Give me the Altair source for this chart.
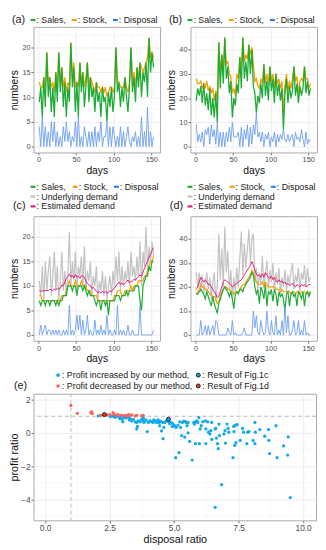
import altair as alt
import pandas as pd

FONT = "Liberation Sans"

days = list(range(1, 154, 2))

# ---------- panel (a) ----------
a_sales = [9, 12, 6, 14, 8, 19, 10, 14, 7, 12,
           6, 15, 9, 19, 11, 16, 8, 13, 6, 12,
           9, 21, 12, 16, 7, 13, 6, 17, 11, 15,
           8, 12, 17, 9, 14, 10, 12, 7, 13, 9,
           11, 6, 12, 9, 10, 5, 11, 8, 12, 7,
           10, 20, 11, 13, 8, 12, 9, 14, 10, 7,
           12, 20, 11, 14, 9, 16, 12, 17, 10, 15,
           13, 17, 10, 22, 15, 19, 16]
a_stock = [13, 12, 12, 14, 12, 19, 13, 14, 12, 13,
           11, 15, 12, 19, 13, 16, 12, 14, 11, 13,
           12, 21, 14, 17, 12, 13, 12, 17, 13, 15,
           12, 14, 17, 12, 14, 13, 12, 11, 13, 12,
           12, 11, 12, 11, 12, 10, 11, 12, 12, 11,
           12, 20, 13, 13, 12, 12, 12, 14, 12, 11,
           13, 20, 13, 15, 12, 16, 14, 17, 16, 15,
           16, 17, 18, 22, 18, 19, 18]
a_disposal = [4, 0, 6, 0, 4, 0, 3, 0, 5, 1,
              5, 0, 3, 0, 2, 0, 4, 1, 5, 1,
              3, 0, 2, 1, 5, 0, 6, 0, 2, 0,
              4, 2, 0, 3, 0, 3, 0, 4, 0, 3,
              1, 5, 0, 2, 2, 5, 0, 4, 0, 4,
              2, 0, 2, 0, 4, 0, 3, 0, 2, 4,
              1, 0, 2, 1, 3, 0, 2, 0, 6, 0,
              3, 0, 8, 0, 3, 0, 2]

# ---------- panel (b) ----------
b_sales = [19, 24, 21, 25, 18, 26, 17, 22, 15, 24,
           13, 20, 12, 22, 10, 43, 24, 38, 26, 45,
           28, 33, 22, 27, 12, 20, 17, 26, 22, 37,
           24, 45, 28, 35, 27, 42, 30, 40, 25, 22,
           14, 21, 18, 26, 20, 34, 21, 27, 19, 33,
           23, 28, 18, 30, 21, 26, 19, 24, 7, 22,
           28, 18, 25, 20, 23, 33, 21, 26, 18, 25,
           21, 24, 33, 22, 27, 21, 24]
b_stock = [28, 26, 26, 27, 24, 26, 24, 27, 23, 25,
           22, 24, 19, 23, 20, 43, 30, 38, 32, 45,
           34, 35, 30, 29, 22, 24, 21, 30, 28, 37,
           32, 45, 35, 38, 36, 42, 38, 41, 34, 27,
           28, 25, 24, 28, 26, 34, 26, 30, 25, 33,
           27, 30, 24, 30, 26, 28, 24, 27, 14, 25,
           30, 23, 27, 24, 28, 33, 27, 29, 22, 27,
           28, 27, 33, 28, 28, 24, 26]
b_disposal = [9, 2, 5, 2, 6, 0, 7, 5, 8, 1,
              9, 4, 7, 1, 10, 0, 6, 0, 6, 0,
              6, 2, 8, 2, 10, 4, 4, 4, 6, 0,
              8, 0, 7, 3, 9, 0, 8, 1, 9, 5,
              14, 4, 6, 2, 6, 0, 5, 3, 6, 0,
              4, 2, 6, 0, 5, 2, 5, 3, 7, 3,
              2, 5, 2, 4, 5, 0, 6, 3, 4, 2,
              7, 3, 0, 6, 1, 3, 2]

# ---------- panel (c) ----------
c_demand = [11, 8, 14, 7, 15, 9, 13, 16, 8, 12,
            17, 9, 14, 7, 11, 17, 9, 13, 8, 12,
            21, 10, 15, 11, 17, 9, 14, 12, 16, 10,
            18, 9, 13, 11, 15, 8, 12, 10, 14, 7,
            11, 9, 13, 8, 12, 7, 10, 12, 8, 13,
            10, 16, 11, 17, 9, 14, 10, 13, 11, 15,
            10, 17, 12, 14, 11, 16, 12, 19, 10, 17,
            14, 22, 13, 18, 15, 19, 16]
c_estimated = [9.0, 8.9, 9.0, 9.0, 9.0, 9.1, 9.0, 9.3, 9.2, 9.0,
               9.4, 9.2, 9.5, 9.3, 9.5, 10.2, 10.0, 10.8, 11.5, 12.0,
               12.4, 11.8, 12.2, 11.6, 12.3, 11.8, 12.0, 11.5, 12.1, 11.9,
               11.7, 11.0, 10.5, 10.2, 10.0, 9.5, 9.7, 9.2, 9.0, 8.6,
               8.8, 8.5, 8.9, 8.6, 8.8, 8.5, 8.7, 9.0, 8.8, 9.3,
               9.5, 10.0, 10.4, 10.8, 10.3, 10.6, 10.2, 10.5, 10.8, 11.2,
               10.6, 10.9, 11.0, 11.3, 11.2, 11.6, 11.9, 12.2, 12.0, 12.8,
               13.6, 14.4, 15.0, 15.8, 16.4, 17.2, 17.8]
c_sales = [7, 6, 7, 7, 6, 7, 7, 6, 7, 7,
           7, 6, 7, 6, 7, 7, 8, 8, 8, 10,
           10, 10, 9, 10, 10, 8, 10, 10, 10, 9,
           10, 9, 8, 9, 8, 8, 8, 7, 6, 7,
           7, 5, 7, 7, 6, 7, 4, 7, 7, 7,
           7, 8, 8, 8, 7, 8, 8, 8, 9, 8,
           9, 9, 9, 9, 10, 10, 10, 7, 5, 10,
           11, 12, 12, 14, 13, 15, 15]
c_stock = [8, 8, 7, 7, 7, 7, 7, 7, 7, 7,
           7, 7, 7, 7, 7, 8, 8, 8, 9, 10,
           11, 10, 10, 10, 11, 10, 10, 10, 11, 10,
           10, 10, 9, 9, 9, 8, 8, 8, 8, 7,
           7, 7, 7, 7, 7, 7, 7, 7, 7, 7,
           8, 8, 9, 9, 9, 8, 8, 9, 9, 9,
           9, 10, 9, 10, 10, 10, 11, 11, 11, 11,
           12, 12, 13, 14, 15, 15, 16]
c_disposal = [0, 2, 0, 1, 2, 0, 1, 1, 0, 1,
              0, 1, 0, 1, 0, 0, 1, 0, 1, 0,
              6, 0, 1, 0, 1, 4, 1, 4, 0, 3,
              0, 1, 4, 0, 1, 0, 0, 3, 0, 1,
              0, 2, 0, 1, 0, 4, 0, 1, 0, 0,
              1, 0, 6, 0, 1, 0, 1, 0, 0, 2,
              0, 0, 1, 0, 0, 0, 0, 6, 0, 0,
              0, 0, 0, 0, 0, 0, 1]

# ---------- panel (d) ----------
d_demand = [26, 20, 26, 18, 25, 17, 22, 26, 19, 24,
            15, 22, 26, 14, 20, 42, 23, 36, 20, 45,
            26, 35, 19, 27, 15, 24, 18, 28, 20, 32,
            43, 25, 38, 28, 35, 44, 30, 40, 42, 22,
            28, 19, 26, 21, 33, 20, 25, 31, 19, 27,
            22, 30, 18, 26, 21, 28, 17, 24, 20, 27,
            18, 25, 21, 26, 30, 19, 25, 22, 28, 18,
            26, 23, 29, 20, 28, 22, 24]
d_estimated = [19, 20, 22, 24, 23, 22, 23, 22, 21, 21,
               20, 19, 18, 17, 15.5, 16, 18, 20, 22, 23,
               22.5, 22, 21.5, 21, 20, 20.5, 21, 21.5, 22, 22.5,
               23, 24, 25, 26, 27, 28, 29, 30.5, 29, 27,
               25.5, 24.5, 25, 24, 25.5, 24, 26, 25, 24, 23.5,
               24.5, 23, 24, 22.5, 22, 23, 22, 22.5, 21.5, 22,
               21, 21.5, 20.5, 21, 21.5, 20.5, 20, 21, 20.5, 20,
               21, 20.5, 21, 20, 20.5, 21, 21]
d_sales = [17, 17, 18, 19, 18, 17, 15, 18, 16, 14,
           12, 16, 13, 11, 9, 13, 15, 17, 19, 20,
           19, 18, 16, 18, 15, 11, 17, 18, 17, 19,
           19, 18, 20, 21, 22, 23, 24, 26, 25, 20,
           17, 19, 13, 20, 18, 15, 21, 12, 18, 17,
           19, 14, 19, 17, 12, 18, 16, 17, 15, 10,
           17, 18, 12, 17, 18, 16, 17, 12, 18, 17,
           15, 18, 12, 17, 18, 16, 18]
d_stock = [17, 18, 19, 21, 20, 20, 19, 19, 18, 17,
           17, 16, 16, 15, 13, 14, 16, 18, 19, 20,
           20, 19, 19, 18, 18, 17, 18, 18, 18, 19,
           20, 21, 21, 22, 23, 24, 25, 27, 26, 24,
           22, 21, 21, 21, 22, 20, 22, 21, 20, 20,
           20, 20, 20, 19, 19, 19, 18, 19, 18, 18,
           18, 18, 18, 17, 18, 18, 17, 18, 18, 17,
           18, 18, 18, 17, 18, 17, 18]
d_disposal = [0, 0, 0, 6, 0, 1, 4, 0, 4, 0,
              2, 4, 0, 6, 5, 0, 0, 0, 0, 0,
              0, 3, 1, 0, 6, 0, 1, 0, 0, 0,
              0, 1, 3, 0, 0, 0, 0, 0, 10, 3,
              8, 1, 0, 6, 2, 0, 1, 10, 2, 0,
              6, 1, 0, 8, 0, 2, 0, 6, 0, 12,
              1, 8, 0, 0, 2, 6, 0, 1, 6, 0,
              2, 0, 6, 0, 1, 0, 0]

# ---------- panel (e) ----------
inc_x = [2.06, 2.53, 2.59, 2.66, 2.72, 2.78, 2.85, 2.89, 2.94, 2.99,
         3.01, 3.07, 3.14, 3.23, 3.27, 3.30, 3.36, 3.42, 3.49, 3.55,
         3.58, 3.55, 3.61, 3.68, 3.74, 3.78, 3.81, 3.83, 3.87, 3.91,
         3.96, 4.00, 4.06, 4.13, 4.19, 4.21, 4.29, 4.32, 4.38, 4.42,
         4.44, 4.47, 4.51, 4.55, 4.57, 4.60, 4.64, 4.70, 4.74, 4.80,
         4.83, 4.89, 4.93, 4.96, 4.98, 5.02, 5.06, 5.08, 5.15, 5.19,
         5.22, 5.25, 5.29, 5.32, 5.38, 5.41, 5.45, 5.48, 5.50, 5.54,
         5.54, 5.60, 5.70, 5.76, 5.79, 5.83, 5.88, 5.92, 5.96, 6.01,
         6.05, 6.11, 6.21, 6.23, 6.23, 5.83, 5.98, 6.30, 6.33, 6.39,
         6.42, 6.46, 6.46, 6.59, 6.61, 6.64, 6.68, 6.71, 6.74, 6.76,
         6.84, 6.59, 6.93, 6.97, 6.99, 7.05, 7.09, 7.12, 7.28, 7.31,
         7.32, 7.35, 7.37, 7.40, 7.44, 7.56, 7.65, 7.69, 7.82, 7.85,
         7.90, 8.06, 8.13, 8.13, 8.15, 8.32, 8.51, 8.66, 8.67, 8.70,
         8.95, 8.99, 9.24, 9.40, 9.42, 9.50]
inc_y = [1.02, 0.98, 1.02, 0.98, 0.94, 1.02, 0.98, 0.86, 0.94, 0.82,
         0.67, 0.94, 0.90, 0.94, 0.78, 0.86, 0.71, 0.82, 0.67, 0.63,
         0.39, 0.24, 0.73, 0.67, 0.82, 0.75, 0.90, 0.63, 0.71, 0.78,
         0.08, 0.63, 0.73, 0.67, 0.63, 0.78, 0.73, 0.63, 0.78, 0.63,
         0.43, 0.71, 0.12, 0.63, -0.35, 0.33, 0.63, 0.71, 0.78, 0.67,
         0.55, 0.63, 0.39, 0.53, 0.43, 0.43, -1.49, 0.33, 0.47, -1.18,
         0.67, 0.33, -0.16, 0.63, 0.71, -0.25, 0.67, 0.63, 0.43, 0.63,
         0.00, -0.51, -1.63, 0.63, 0.53, 0.67, 0.73, 0.63, 0.92, 0.24,
         0.43, 0.67, 0.73, 0.24, -0.65, -0.65, -0.65, 0.67, 0.04, -0.06,
         0.14, 0.63, -0.39, 0.24, 0.27, -0.31, -0.65, -0.94, 0.53, -0.16,
         -3.10, -4.47, -0.06, 0.14, -0.61, 0.53, 0.27, 0.04, -1.49, 0.39,
         0.08, -0.75, 0.47, -0.59, 0.49, -0.45, 0.27, 0.04, -0.65, 0.04,
         0.08, -0.45, 0.63, -0.65, 0.04, 0.20, -0.20, 0.20, -0.45, -1.24,
         0.43, -1.49, -0.78, -1.33, -0.24, -3.88]
dec_x = [1.00, 1.25, 1.77, 1.80, 1.83, 2.15, 2.25, 2.38, 2.50, 2.63,
         2.68, 2.76, 2.81, 2.89, 2.98, 3.10, 3.17, 3.23, 3.29, 3.36,
         3.49, 3.55, 3.74, 3.80]
dec_y = [1.65, 1.18, 1.22, 1.27, 1.16, 1.06, 1.10, 1.08, 1.10, 1.22,
         1.10, 1.06, 1.10, 1.06, 1.06, 1.06, 1.02, 1.10, 1.06, 1.08,
         1.02, 1.06, 1.02, 1.06]
fig1c_x = [4.78]
fig1c_y = [0.82]
fig1d_x = [2.30]
fig1d_y = [1.10]

# ---------- styling ----------
GREEN = "#1dab36"
ORANGE = "#f5a000"
BLUE = "#6a9ef0"
BLUE_KEY = "#2f7cf0"
GRAY = "#c2c2c2"
MAGENTA = "#e5197c"
PT_BLUE = "#13a8ec"
PT_RED = "#f3645b"
MINOR = "#f3f3f3"
TXT = "#1a1a1a"


def txt(s, x, y, size=9, color=TXT):
    return alt.Chart(pd.DataFrame({"t": [s]})).mark_text(
        align="left", baseline="middle", font=FONT, fontSize=size, color=color
    ).encode(text="t:N", x=alt.value(x), y=alt.value(y))


def key_line(color, x, y):
    return alt.Chart(pd.DataFrame({"t": [0]})).mark_rule(
        color=color, strokeWidth=2.2
    ).encode(x=alt.value(x), x2=alt.value(x + 5), y=alt.value(y))


def key_dot(color, x, y, outline=False):
    return alt.Chart(pd.DataFrame({"t": [0]})).mark_circle(
        fill=color, opacity=1, size=16 if outline else 13,
        stroke="#111111" if outline else color, strokeWidth=0.9 if outline else 0
    ).encode(x=alt.value(x), y=alt.value(y))


def time_panel(df, ydom, ymaj, yminor, series, legend, h):
    xs = alt.Scale(domain=[-6.7, 161.7], nice=False, zero=False)
    ys = alt.Scale(domain=ydom, nice=False, zero=False)
    xax = alt.Axis(values=[0, 50, 100, 150], title="days", labelFontSize=7.5,
                   titleFontSize=10.5, tickSize=2.5, labelPadding=1, titlePadding=2)
    yax = alt.Axis(values=ymaj, title="numbers", labelFontSize=7.5,
                   titleFontSize=10.5, tickSize=2.5, labelPadding=1, titlePadding=2)
    layers = [
        alt.Chart(pd.DataFrame({"v": [25, 75, 125]})).mark_rule(color=MINOR, strokeWidth=0.5)
        .encode(x=alt.X("v:Q", scale=xs, axis=xax)),
        alt.Chart(pd.DataFrame({"v": yminor})).mark_rule(color=MINOR, strokeWidth=0.5)
        .encode(y=alt.Y("v:Q", scale=ys, axis=yax)),
    ]
    for field, color, w in series:
        layers.append(
            alt.Chart(df).mark_line(color=color, strokeWidth=w).encode(
                x=alt.X("day:Q", scale=xs, axis=xax),
                y=alt.Y(f"{field}:Q", scale=ys, axis=yax),
            )
        )
    layers += legend
    return alt.layer(*layers).properties(width=129, height=h)


def legend_ab(tag):
    y = -7
    return [
        txt(tag, -22, y, 11),
        key_line(GREEN, -3, y), txt(": Sales,", 3, y),
        key_line(ORANGE, 39, y), txt(": Stock,", 45, y),
        key_line(BLUE_KEY, 81, y), txt(": Disposal", 87, y),
    ]


def legend_cd(tag):
    y1, y2, y3 = -30, -20, -10
    return [
        key_line(GREEN, -3, y1), txt(": Sales,", 3, y1),
        key_line(ORANGE, 40, y1), txt(": Stock,", 46, y1),
        key_line(BLUE_KEY, 82, y1), txt(": Disposal", 88, y1),
        key_line(GRAY, -3, y2), txt(": Underlying demand", 3, y2),
        txt(tag, -21, y3, 11),
        key_line(MAGENTA, -3, y3), txt(": Estimated  demand", 3, y3),
    ]


df_a = pd.DataFrame({"day": days, "sales": a_sales, "stock": a_stock, "disposal": a_disposal})
df_b = pd.DataFrame({"day": days, "sales": b_sales, "stock": b_stock, "disposal": b_disposal})
df_c = pd.DataFrame({"day": days, "demand": c_demand, "estimated": c_estimated,
                     "sales": c_sales, "stock": c_stock, "disposal": c_disposal})
df_d = pd.DataFrame({"day": days, "demand": d_demand, "estimated": d_estimated,
                     "sales": d_sales, "stock": d_stock, "disposal": d_disposal})

ab_series = [("stock", ORANGE, 1.3), ("sales", GREEN, 1.3), ("disposal", BLUE, 0.9)]
cd_series = [("demand", GRAY, 1.2), ("stock", ORANGE, 1.2), ("sales", GREEN, 1.2),
             ("disposal", BLUE, 0.9), ("estimated", MAGENTA, 1.0)]

panel_a = time_panel(df_a, [-1.2, 24.2], [0, 5, 10, 15, 20], [2.5, 7.5, 12.5, 17.5, 22.5],
                     ab_series, legend_ab("(a)"), 128)
panel_b = time_panel(df_b, [-2.4, 49.4], [0, 10, 20, 30, 40], [5, 15, 25, 35, 45],
                     ab_series, legend_ab("(b)"), 128)
panel_c = time_panel(df_c, [-1.2, 24.2], [0, 5, 10, 15, 20], [2.5, 7.5, 12.5, 17.5, 22.5],
                     cd_series, legend_cd("(c)"), 127)
panel_d = time_panel(df_d, [-2.4, 49.4], [0, 10, 20, 30, 40], [5, 15, 25, 35, 45],
                     cd_series, legend_cd("(d)"), 127)

# ---------- scatter panel ----------
exs = alt.Scale(domain=[-0.45, 10.5], nice=False, zero=False)
eys = alt.Scale(domain=[-5.25, 2.35], nice=False, zero=False)
exax = alt.Axis(values=[0, 2.5, 5, 7.5, 10], format=".1f", title="disposal ratio",
                labelFontSize=8.5, titleFontSize=11, tickSize=2.5, labelPadding=1, titlePadding=1.5)
eyax = alt.Axis(values=[-4, -2, 0, 2], format="d", title="profit ratio",
                labelFontSize=8.5, titleFontSize=11, tickSize=2.5, labelPadding=1, titlePadding=1)

df_inc = pd.DataFrame({"x": inc_x, "y": inc_y})
df_dec = pd.DataFrame({"x": dec_x, "y": dec_y})
df_1c = pd.DataFrame({"x": fig1c_x, "y": fig1c_y})
df_1d = pd.DataFrame({"x": fig1d_x, "y": fig1d_y})


def pts(df, **kw):
    return alt.Chart(df).mark_circle(opacity=1, **kw).encode(
        x=alt.X("x:Q", scale=exs, axis=exax), y=alt.Y("y:Q", scale=eys, axis=eyax))


e_layers = [
    alt.Chart(pd.DataFrame({"v": [1.25, 3.75, 6.25, 8.75]})).mark_rule(color=MINOR, strokeWidth=0.5)
    .encode(x=alt.X("v:Q", scale=exs, axis=exax)),
    alt.Chart(pd.DataFrame({"v": [-5, -3, -1, 1]})).mark_rule(color=MINOR, strokeWidth=0.5)
    .encode(y=alt.Y("v:Q", scale=eys, axis=eyax)),
    alt.Chart(pd.DataFrame({"v": [1]})).mark_rule(color="#b3b3b3", strokeWidth=0.9, strokeDash=[4, 3])
    .encode(x=alt.X("v:Q", scale=exs, axis=exax)),
    alt.Chart(pd.DataFrame({"v": [1]})).mark_rule(color="#b3b3b3", strokeWidth=0.9, strokeDash=[4, 3])
    .encode(y=alt.Y("v:Q", scale=eys, axis=eyax)),
    pts(df_inc, color=PT_BLUE, size=11),
    pts(df_dec, color=PT_RED, size=11),
    pts(df_1c, fill=PT_BLUE, stroke="#111111", strokeWidth=0.9, size=16),
    pts(df_1d, fill="#d8433a", stroke="#111111", strokeWidth=0.9, size=16),
    key_dot(PT_BLUE, 25, -19), txt(": Profit increased by our method,", 29, -19),
    key_dot(PT_BLUE, 168, -19, True), txt(": Result of Fig.1c", 172, -19),
    txt("(e)", -20, -8, 11),
    key_dot(PT_RED, 25, -8), txt(": Profit decreased by our method,", 29, -8),
    key_dot("#d8433a", 168, -8, True), txt(": Result of Fig.1d", 172, -8),
]
panel_e = alt.layer(*e_layers).properties(width=288, height=129)

row1 = alt.hconcat(panel_a, panel_b, spacing=31, bounds="flush")
row2 = alt.hconcat(panel_c, panel_d, spacing=31, bounds="flush")

chart = alt.vconcat(row1, row2, panel_e, spacing=6).properties(
    padding={"left": 0, "top": 0, "right": 0, "bottom": 0}
).configure_view(
    stroke="#a8a8a8", strokeWidth=1
).configure_axis(
    domain=False, labelFont=FONT, titleFont=FONT, labelColor="#4d4d4d",
    titleColor="#111111", tickColor="#555555", tickWidth=0.8,
    gridColor="#e9e9e9", gridWidth=0.8, titleFontWeight="normal"
)

chart.save("out.html", embed_options={"renderer": "svg", "actions": False})
